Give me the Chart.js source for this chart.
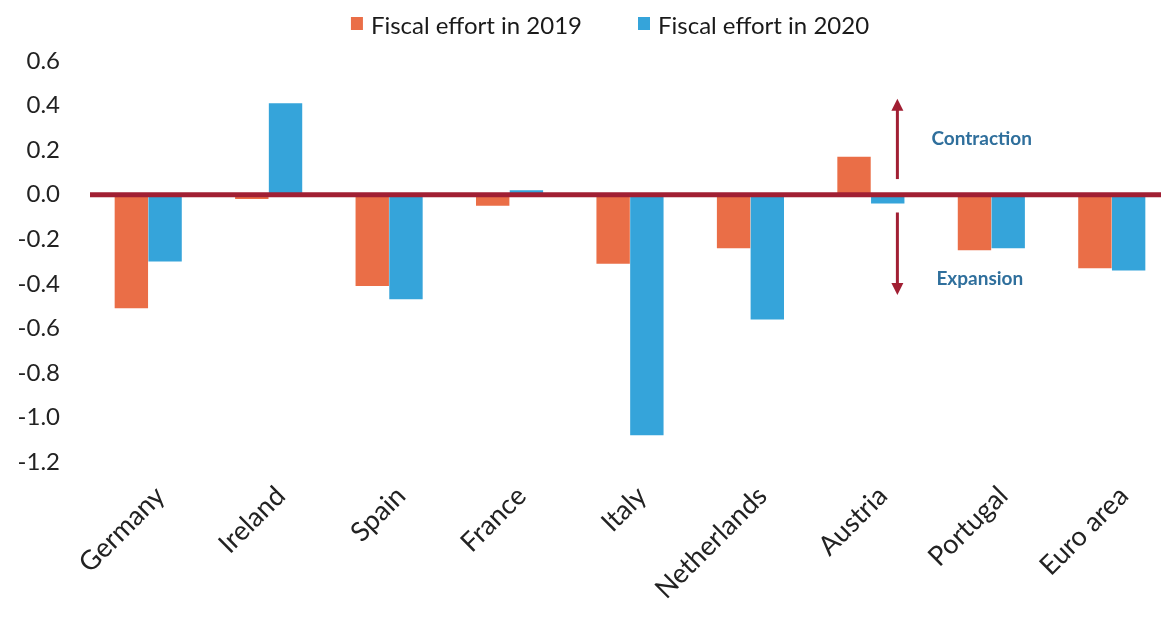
<!DOCTYPE html>
<html>
<head>
<meta charset="utf-8">
<script src="https://cdn.jsdelivr.net/npm/chart.js@4.4.1/dist/chart.umd.min.js"></script>
<style>
  html, body { margin: 0; padding: 0; background: #fff; overflow: hidden; }
  #wrap { width: 1172px; height: 617px; }
</style>
</head>
<body>
<div id="wrap"><canvas id="fiscal-chart" width="1172" height="617"></canvas></div>
<script>
var categories = ['Germany', 'Ireland', 'Spain', 'France', 'Italy', 'Netherlands', 'Austria', 'Portugal', 'Euro area'];
var effort2019 = [-0.51, -0.02, -0.41, -0.05, -0.31, -0.24, 0.17, -0.25, -0.33];
var effort2020 = [-0.30, 0.41, -0.47, 0.02, -1.08, -0.56, -0.04, -0.24, -0.34];
var yTicks = [0.6, 0.4, 0.2, 0.0, -0.2, -0.4, -0.6, -0.8, -1.0, -1.2];

var orange = '#EA6E47';
var blue = '#35A4DA';
var crimson = '#A11F33';
var noteBlue = '#2F6F9C';
var fontFamily = 'Lato, "Open Sans", sans-serif';

// legend, zero line and the contraction / expansion arrows
var extras = {
    id: 'extras',
    afterDatasetsDraw: function(chart) {
        var ctx = chart.ctx;
        var area = chart.chartArea;
        var x = chart.scales.x;
        var y = chart.scales.y;

        ctx.save();
        // zero line on top of the bars
        ctx.strokeStyle = crimson;
        ctx.lineWidth = 5;
        ctx.beginPath();
        ctx.moveTo(area.left + 2, y.getPixelForValue(0));
        ctx.lineTo(area.right, y.getPixelForValue(0));
        ctx.stroke();

        // legend
        ctx.font = '24px ' + fontFamily;
        ctx.textBaseline = 'middle';
        var gap = 56;
        var widths = chart.data.datasets.map(function(ds) { return 20 + ctx.measureText(ds.label).width; });
        var total = widths[0] + gap + widths[1];
        var lx = 610 - total / 2;
        chart.data.datasets.forEach(function(ds, i) {
            ctx.fillStyle = ds.backgroundColor;
            ctx.fillRect(lx, 17, 12, 13);
            ctx.fillStyle = '#1a1a1a';
            ctx.textAlign = 'left';
            ctx.fillText(ds.label, lx + 20, 26);
            lx += widths[i] + gap;
        });

        // arrows beside Austria
        var step = x.getPixelForValue(1) - x.getPixelForValue(0);
        var ax = x.getPixelForValue(6) + step * 0.22;
        function arrow(fromV, toV) {
            var y0 = y.getPixelForValue(fromV);
            var y1 = y.getPixelForValue(toV);
            var dir = y1 < y0 ? 1 : -1;
            ctx.strokeStyle = crimson;
            ctx.fillStyle = crimson;
            ctx.lineWidth = 3;
            ctx.beginPath();
            ctx.moveTo(ax, y0);
            ctx.lineTo(ax, y1 + dir * 8);
            ctx.stroke();
            ctx.beginPath();
            ctx.moveTo(ax, y1);
            ctx.lineTo(ax - 6, y1 + dir * 12);
            ctx.lineTo(ax + 6, y1 + dir * 12);
            ctx.closePath();
            ctx.fill();
        }
        arrow(0.07, 0.43);
        arrow(-0.08, -0.45);

        ctx.fillStyle = noteBlue;
        ctx.font = 'bold 19px ' + fontFamily;
        ctx.textAlign = 'left';
        ctx.fillText('Contraction', ax + 34, y.getPixelForValue(0.25));
        ctx.fillText('Expansion', ax + 39, y.getPixelForValue(-0.38));
        ctx.restore();
    }
};

new Chart(document.getElementById('fiscal-chart'), {
    type: 'bar',
    data: {
        labels: categories,
        datasets: [
            { label: 'Fiscal effort in 2019', data: effort2019, backgroundColor: orange },
            { label: 'Fiscal effort in 2020', data: effort2020, backgroundColor: blue }
        ]
    },
    options: {
        responsive: false,
        animation: false,
        layout: { padding: { top: 61, right: 0, left: 0, bottom: 0 } },
        categoryPercentage: 0.56,
        barPercentage: 0.99,
        plugins: {
            legend: { display: false },
            tooltip: { enabled: false }
        },
        scales: {
            x: {
                grid: { display: false, drawTicks: false },
                border: { display: false },
                ticks: {
                    color: '#222',
                    font: { family: fontFamily, size: 27 },
                    minRotation: 45,
                    maxRotation: 45,
                    padding: 18,
                    labelOffset: 12
                },
                afterFit: function(scale) { scale.height = 155; }
            },
            y: {
                min: -1.2,
                max: 0.6,
                afterBuildTicks: function(scale) {
                    scale.ticks = yTicks.map(function(v) { return { value: v }; });
                },
                grid: { display: false, drawTicks: false },
                border: { display: false },
                ticks: {
                    color: '#222',
                    font: { family: fontFamily, size: 24 },
                    padding: 28,
                    callback: function(v) { return v.toFixed(1); }
                },
                afterFit: function(scale) { scale.width = 88; }
            }
        }
    },
    plugins: [extras]
});
</script>
</body>
</html>
